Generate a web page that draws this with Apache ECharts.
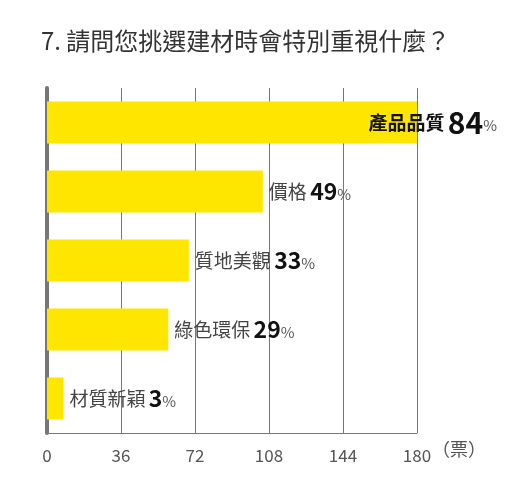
<!DOCTYPE html>
<html><head><meta charset="utf-8">
<script src="https://cdn.jsdelivr.net/npm/echarts@6/dist/echarts.min.js"></script>
<style>body{margin:0}#main{width:519px;height:483px}</style>
</head><body><div id="main"></div>
<script>
// 資料
var categories = ['產品品質', '價格', '質地美觀', '綠色環保', '材質新穎'];
var votes = [180, 105, 69, 59, 8];
var percents = [84, 49, 33, 29, 3];
var xTicks = [0, 36, 72, 108, 144, 180];

var chart = echarts.init(document.getElementById('main'));
var font = '"Noto Sans CJK TC", sans-serif';
var option = {
    title: {
        text: '7. 請問您挑選建材時會特別重視什麼？',
        left: 36, top: 24,
        textStyle: { fontFamily: font, fontSize: 24, fontWeight: 'normal', color: '#333' }
    },
    graphic: [{
        type: 'text', left: 432, top: 440,
        style: { text: '（票）', font: '18px ' + font, fill: '#555' }
    }],
    grid: { left: 47, right: 102, top: 88, bottom: 50 },
    xAxis: {
        type: 'value', min: 0, max: 180, interval: 36,
        axisLine: { show: true, lineStyle: { color: '#777' } },
        axisTick: { show: false },
        splitLine: { lineStyle: { color: '#777' } },
        axisLabel: { margin: 14, fontFamily: font, fontSize: 17, color: '#555' }
    },
    yAxis: {
        type: 'category', inverse: true, data: categories,
        axisLine: { lineStyle: { color: '#777', width: 4 } },
        axisTick: { show: false }, axisLabel: { show: false }
    },
    series: [{
        type: 'bar', barWidth: 42, z: 3,
        itemStyle: { color: '#FFE600' },
        data: votes.map(function (v, i) {
            var top = i === 0;
            return {
                value: v,
                label: {
                    show: true,
                    position: top ? 'insideRight' : 'right',
                    distance: top ? -80 : 6,
                    formatter: '{n|' + categories[i] + '} {v|' + percents[i] + '}{p|%}',
                    rich: {
                        n: { fontFamily: font, fontSize: 19, color: top ? '#111' : '#444', fontWeight: top ? 'bold' : 'normal' },
                        v: { fontFamily: font, fontSize: top ? 30 : 23, color: '#111', fontWeight: 'bold' },
                        p: { fontFamily: font, fontSize: 15, color: '#555', padding: [6, 0, 0, 0] }
                    }
                }
            };
        })
    }]
};
chart.setOption(option);
</script></body></html>
